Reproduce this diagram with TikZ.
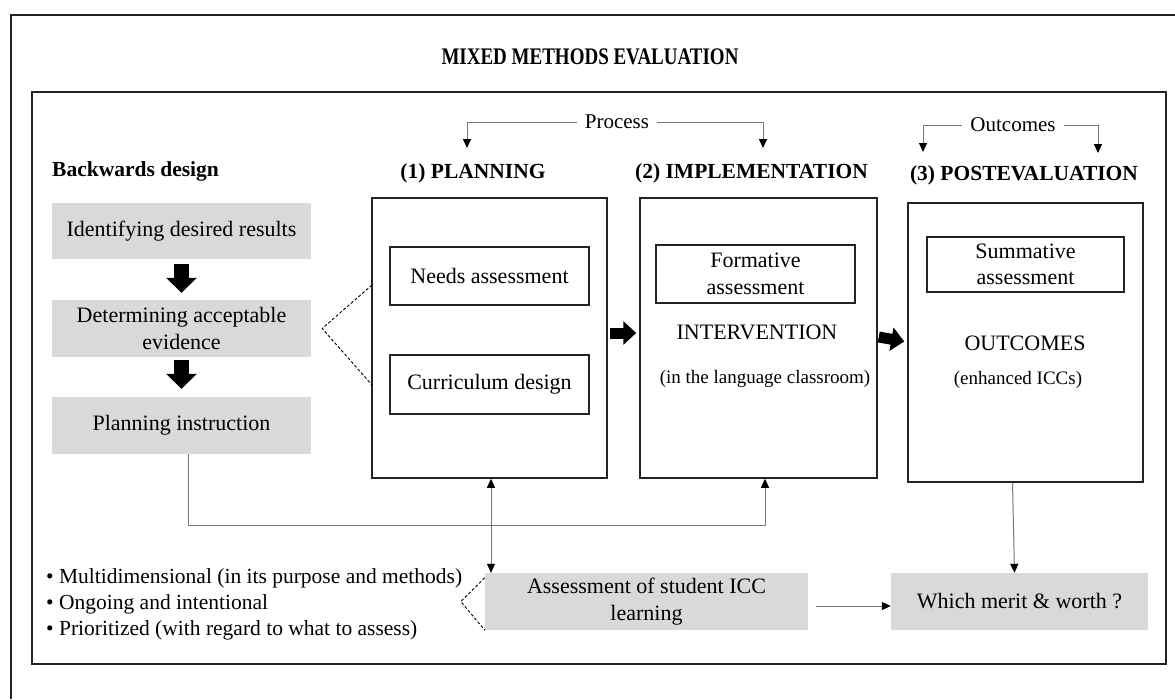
\documentclass[tikz,border=0pt]{standalone}
\usepackage{fontspec}
\setmainfont{Liberation Serif}
\usetikzlibrary{arrows.meta}
\definecolor{boxgray}{RGB}{217,217,217}
\definecolor{linegray}{RGB}{120,120,120}
\definecolor{framecol}{RGB}{35,35,35}
\begin{document}
\begin{tikzpicture}[x=1pt,y=-1pt,
  every node/.style={font=\fontsize{22}{26.5}\selectfont, inner sep=0pt},
  graybox/.style={fill=boxgray, draw=none, align=center},
  wbox/.style={draw=framecol, line width=1.5pt, fill=white, align=center},
  frameline/.style={draw=framecol, line width=1.5pt},
  headfont/.style={font=\bfseries\fontsize{21.5}{26}\selectfont},
  smallfont/.style={font=\fontsize{19}{23}\selectfont},
  conn/.style={draw=linegray, line width=1pt},
  tipb/.style={-{Triangle[length=9pt,width=8pt,color=black]}},
  tipboth/.style={{Triangle[length=9pt,width=8pt,color=black]}-{Triangle[length=9pt,width=8pt,color=black]}},
  blockdown/.style={draw=black, line width=15pt, -{Triangle[length=15pt,width=30pt]}},
  blockright/.style={draw=black, line width=11pt, -{Triangle[length=13pt,width=23pt]}},
  dashl/.style={draw=black, line width=0.9pt, dash pattern=on 3pt off 2pt}
]
\useasboundingbox (0,0) rectangle (1175,699);
\fill[white] (0,0) rectangle (1175,699);

% frames
\draw[frameline] (1175,15) -- (11,15) -- (11,699);
\draw[frameline] (32,92) rectangle (1166,664);

% title
\node[font=\bfseries\fontsize{19}{23}\selectfont] (title) at (590,57) {\scalebox{1}[1.25]{MIXED METHODS EVALUATION}};

% backwards design
\node[anchor=west, font=\bfseries\fontsize{21.5}{26}\selectfont] (bd) at (52,171) {Backwards design};
\node[graybox, minimum width=259pt, minimum height=56pt] (b1) at (181.5,231) {Identifying desired results};
\node[graybox, minimum width=259pt, minimum height=57pt] (b2) at (181.5,328.5) {Determining acceptable\\evidence};
\node[graybox, minimum width=259pt, minimum height=57pt] (b3) at (181.5,425.5) {Planning instruction};
\draw[blockdown] ([yshift=-5pt]b1.south) -- ([yshift=7pt]b2.north);
\draw[blockdown] ([yshift=-3pt]b2.south) -- ([yshift=8pt]b3.north);

% headings
\node[headfont] (h1) at (473,173) {(1) PLANNING};
\node[headfont] (h2) at (751.5,173) {(2) IMPLEMENTATION};
\node[headfont] (h3) at (1024,175) {(3) POSTEVALUATION};

% planning
\node[wbox, minimum width=235pt, minimum height=280pt] (P) at (489.5,338) {};
\node[wbox, minimum width=199pt, minimum height=58pt] (N) at (489.5,276) {Needs assessment};
\node[wbox, minimum width=199pt, minimum height=59pt] (C) at (489.5,384.5) {Curriculum design};

% implementation
\node[wbox, minimum width=237pt, minimum height=280pt] (I) at (758.5,338) {};
\node[wbox, minimum width=199pt, minimum height=58pt] (F) at (755.5,274) {Formative\\assessment};
\node (iv) at (757,332) {INTERVENTION};
\node[smallfont] (ivs) at (765,379) {(in the language classroom)};

% postevaluation
\node[wbox, minimum width=235pt, minimum height=279pt] (Q) at (1025.5,342.5) {};
\node[wbox, minimum width=197pt, minimum height=55pt] (S) at (1025.5,264.5) {Summative\\assessment};
\node (oc) at (1025,343) {OUTCOMES};
\node[smallfont] (ocs) at (1018,380) {(enhanced ICCs)};

% block arrows between phases
\draw[blockright] ([shift={(2pt,5pt)}]P.east) -- ([shift={(-3pt,5pt)}]I.west);
\draw[blockright] ([shift={(1pt,1pt)}]I.east) -- ([shift={(-3pt,1pt)}]Q.west);

% process / outcomes
\node[inner xsep=8pt, font=\fontsize{21}{25}\selectfont] (proc) at (617,122) {Process};
\coordinate (pa) at (467,148);
\coordinate (pb) at (763,148);
\draw[conn, tipb] (proc) -| (pa);
\draw[conn, tipb] (proc) -| (pb);
\node[inner xsep=8pt, font=\fontsize{21}{25}\selectfont] (outc) at (1013,125) {Outcomes};
\coordinate (oa) at (923,152);
\coordinate (ob) at (1098,153);
\draw[conn, tipb] (outc) -| (oa);
\draw[conn, tipb] (outc) -| (ob);

% bottom boxes
\node[graybox, minimum width=323pt, minimum height=57pt] (A) at (646.5,601.5) {Assessment of student ICC\\learning};
\node[graybox, minimum width=257pt, minimum height=57pt] (M) at (1019.5,601.5) {Which merit \& worth ?};
\node[anchor=west, align=left, font=\fontsize{21.5}{26}\selectfont] (bl) at (46,604) {• Multidimensional (in its purpose and methods)\\• Ongoing and intentional\\• Prioritized (with regard to what to assess)};

% connectors
\coordinate (t1) at (765,525);
\draw[conn, tipb] ([xshift=6.5pt]b3.south) |- (t1) -- (t1 |- I.south);
\draw[conn, tipboth] ([xshift=1.5pt]P.south) -- ([xshift=1.5pt]P.south |- A.north);
\draw[conn, tipb] ([xshift=-13pt]Q.south) -- ([xshift=-5pt]M.north);
\coordinate (a1) at ([shift={(8pt,-4.5pt)}]A.east);
\draw[conn, tipb] (a1) -- (a1 -| M.west);

% dashed brackets
\coordinate (d1) at (372,285);
\coordinate (d2) at (372,385);
\draw[dashl] (d1) -- ([xshift=11pt]b2.east) -- (d2);
\draw[dashl] ([yshift=-5pt]A.north west) -- ([xshift=-24pt]A.west) -- (A.south west);
\end{tikzpicture}
\end{document}
